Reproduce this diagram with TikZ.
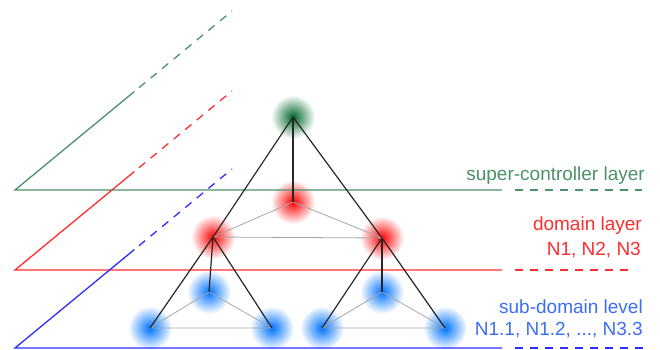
\documentclass[tikz,border=0pt]{standalone}
\usepackage{fontspec}
\setmainfont{Liberation Sans}
\usetikzlibrary{calc}

\definecolor{scgreen}{RGB}{75,145,105}
\definecolor{domred}{RGB}{255,45,45}
\definecolor{subblue}{RGB}{45,45,255}
\definecolor{subtext}{RGB}{60,110,245}
\definecolor{glowgreen}{RGB}{0,100,40}
\definecolor{glowred}{RGB}{255,0,0}
\definecolor{glowblue}{RGB}{0,115,255}

\begin{document}
\begin{tikzpicture}[
    x=1pt, y=-1pt,
    font=\fontsize{19}{23}\selectfont,
    line cap=butt,
    glow/.style={circle, minimum size=44pt, inner sep=0pt, inner color=#1, outer color=white},
    plane/.style={line width=1.3pt},
    far/.style={plane, dash pattern=on 8pt off 7pt},
    link/.style={line width=1.2pt, black!85},
    mesh/.style={line width=0.8pt, black!35},
    caption/.style={anchor=base east, inner sep=0pt}
]
\useasboundingbox (0,0) rectangle (660,350);

% ------------------------
% Controllers (glowing nodes)
% ------------------------
\node[glow=glowgreen] (sc) at (293,117) {};

\node[glow=glowred] (n1) at (213,237) {};
\node[glow=glowred] (n2) at (293,202) {};
\node[glow=glowred] (n3) at (382,238) {};

\node[glow=glowblue] (n11) at (150,328) {};
\node[glow=glowblue] (n12) at (209,292) {};
\node[glow=glowblue] (n13) at (272,328) {};
\node[glow=glowblue] (n31) at (322,328) {};
\node[glow=glowblue] (n32) at (382,292) {};
\node[glow=glowblue] (n33) at (445,328) {};

% ------------------------
% Layer planes
% ------------------------
\coordinate (gO) at (15,190);
\coordinate (rO) at (15,270);
\coordinate (bO) at (15,348);

\foreach \o/\c/\e in {gO/scgreen/642, rO/domred/633, bO/subblue/643} {
    \coordinate (hs) at ($(\o)+(487,0)$);
    \coordinate (he) at (\e,0 |- \o);
    \coordinate (ds) at ($(\o)+(0.55*217,-0.55*179)$);
    \coordinate (de) at ($(\o)+(217,-179)$);
    \draw[plane, \c] (hs) -- (\o) -- (ds);
    \draw[far, \c] ($(hs)+(13,0)$) -- (he);
    \draw[far, \c] ($(ds)!6pt!(de)$) -- (de);
}

% ------------------------
% Links between controllers
% ------------------------
\draw[mesh] (n1.center) -- (n2.center) -- (n3.center) -- cycle;
\draw[mesh] (n11.center) -- (n12.center) -- (n13.center) -- cycle;
\draw[mesh] (n31.center) -- (n32.center) -- (n33.center) -- cycle;

\foreach \d in {n1,n2,n3}
    \draw[link] (sc.center) -- (\d.center);
\foreach \s in {n11,n12,n13}
    \draw[link] (n1.center) -- (\s.center);
\foreach \s in {n31,n32,n33}
    \draw[link] (n3.center) -- (\s.center);

% ------------------------
% Layer captions
% ------------------------
\node[caption, text=scgreen] (sclab) at (645,180) {super-controller layer};
\node[caption, text=domred] (dlab) at (642,230) {domain layer};
\node[caption, text=domred] (dlist) at (641,255) {N1, N2, N3};
\node[caption, text=subtext] (slab) at (643,313) {sub-domain level};
\node[caption, text=subtext] (slist) at (643,335) {N1.1, N1.2, ..., N3.3};

\end{tikzpicture}
\end{document}
